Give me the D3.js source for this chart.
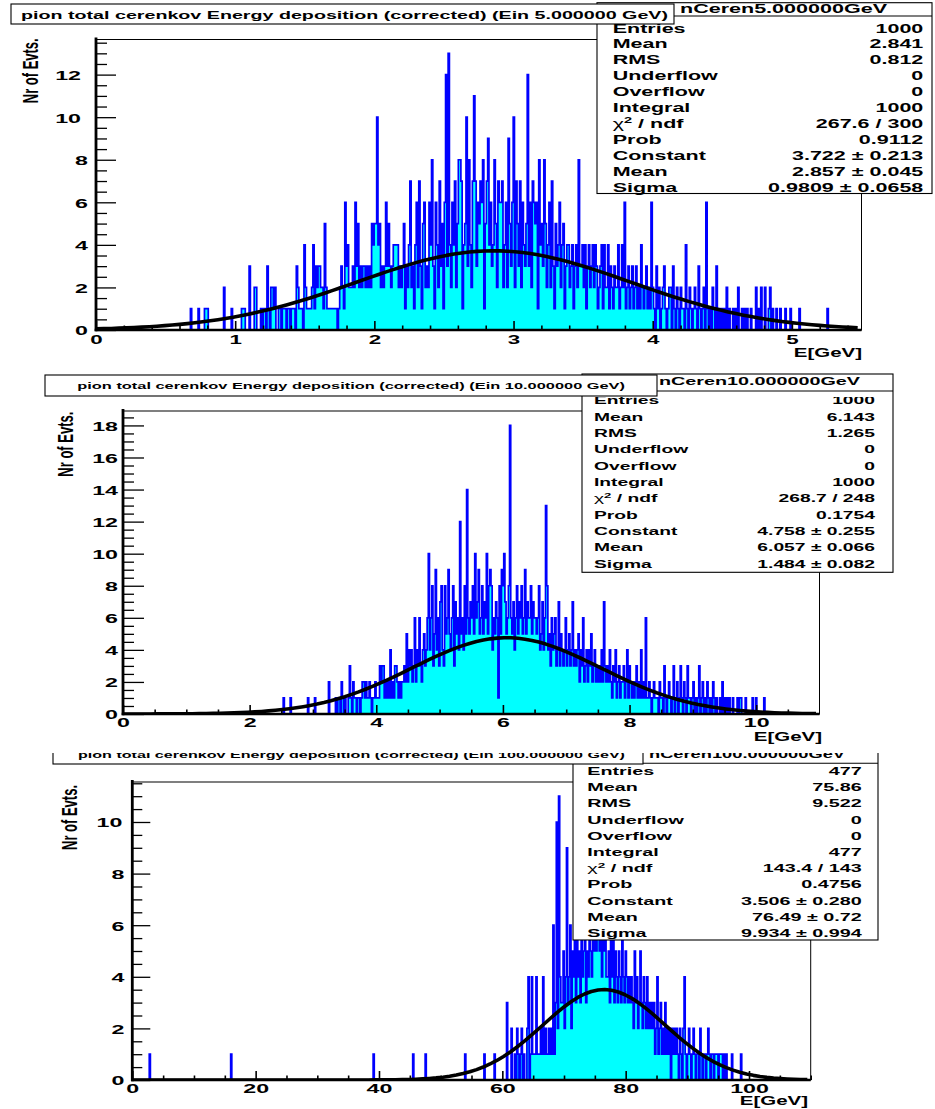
<!DOCTYPE html>
<html><head><meta charset="utf-8">
<script src="https://cdn.jsdelivr.net/npm/d3@7"></script>
<style>
html,body{margin:0;padding:0;background:#fff;}
svg{display:block;}
text{font-family:"Liberation Sans",Arial,Helvetica,sans-serif;font-weight:bold;fill:#000;}
</style></head><body>
<svg id="c" width="935" height="1109"></svg>
<script>
// ---------------- data ----------------
const NBINS = 600;
const beamEnergies = [5, 10, 100];
const histName = "nCeren";
const statLabels = ["Entries","Mean","RMS","Underflow","Overflow","Integral","chi2","Prob","Constant","Mean","Sigma"];

// Ein = 5 GeV  (bin counts, rows of twenty bins starting at ein5_first)
const ein5_xTicks = [0,1,2,3,4,5];
const ein5_yTicks = [0,2,4,6,8,10,12];
const ein5_first = 70;
const ein5_counts = [
0,0,0,0,1,0,0,0,0,0,  1,0,0,0,0,1,1,1,0,0,
0,0,0,0,0,0,0,0,0,0,  2,0,0,0,0,0,1,0,0,0,
0,0,0,0,1,1,1,0,0,0,  3,0,0,0,2,2,0,0,0,1,
0,1,1,0,3,1,0,2,2,1,  2,0,0,1,1,0,1,1,1,0,
1,1,0,1,1,1,0,3,2,1,  1,1,0,4,2,1,1,1,1,2,
4,1,3,2,3,3,2,2,1,5,  2,1,1,1,1,1,1,1,1,0,
1,2,3,2,1,6,3,4,2,2,  2,3,2,6,3,5,2,3,2,3,
3,2,3,2,3,2,5,4,5,5,  10,4,5,2,3,2,3,6,3,5,
3,2,3,4,4,4,4,2,3,2,  3,5,1,3,2,4,7,2,3,1,
4,6,2,7,3,1,5,6,2,3,  2,6,4,8,3,1,6,4,2,7,
3,5,1,6,12,3,13,4,2,6,  4,7,2,5,8,8,7,1,4,5,
10,3,8,4,2,7,11,7,3,6,  5,7,6,8,1,5,7,9,4,6,
3,4,8,5,2,7,6,6,7,2,  4,6,2,9,5,3,6,10,2,7,
5,3,7,2,6,4,3,5,12,3,  6,2,7,6,5,6,1,8,4,5,
3,8,5,2,4,6,2,7,3,1,  5,3,4,6,2,4,5,1,3,4,
4,2,3,4,1,3,4,2,8,3,  3,4,2,4,1,3,4,2,3,4,
2,4,3,1,2,3,4,1,4,2,  2,4,1,3,2,1,3,2,2,4,
1,2,4,2,6,1,2,3,1,2,  3,1,2,3,1,2,1,4,2,1,
2,3,1,2,1,6,2,1,0,3,  1,2,0,1,2,3,1,0,1,2,
2,0,3,1,0,2,1,0,2,1,  1,0,4,1,0,2,1,0,1,2,
1,0,3,1,0,1,2,0,6,1,  0,1,0,2,1,0,3,0,1,0,
1,0,1,0,2,0,1,0,0,1,  0,1,0,2,0,0,1,0,1,0,
1,0,0,1,0,0,0,2,0,1,  0,2,0,0,2,0,0,1,2,0,
1,0,0,1,0,0,1,0,0,0,  1,0,0,0,1,0,0,0,0,0,
0,1,0,0,0,0,0,0,0,0,  0,0,0,0,0,0,0,0,0,0,
0,0,0,1,0,0,0,0,0,0
];
const ein5_summary = ["1000","2.841","0.812","0","0","1000","267.6 / 300","0.9112"];
const ein5_fit = [3.722, 2.857, 0.9809];
const ein5_fitErr = [0.213, 0.045, 0.0658];

// Ein = 10 GeV
const ein10_xTicks = [0,2,4,6,8,10];
const ein10_yTicks = [0,2,4,6,8,10,12,14,16,18];
const ein10_first = 130;
const ein10_counts = [
0,0,0,0,0,0,0,0,1,0,  0,0,0,0,1,0,0,0,0,0,
0,0,0,0,0,0,0,0,0,1,  0,0,0,0,0,1,0,0,0,0,
0,0,0,0,0,0,0,2,0,0,  0,0,0,1,0,1,1,0,2,1,
0,1,0,0,1,3,1,0,2,1,  1,0,1,1,0,1,2,2,1,2,
1,1,2,1,0,1,1,2,1,1,  1,3,2,3,3,1,2,1,2,1,
4,1,2,1,3,3,2,1,2,1,  2,2,3,2,5,2,4,3,4,2,
3,6,2,4,3,6,3,2,4,5,  3,4,6,10,4,6,8,3,5,9,
4,6,3,7,8,4,3,8,5,6,  9,5,4,6,8,3,7,5,6,4,
12,5,6,4,8,5,14,6,5,7,  6,8,5,10,6,7,9,5,6,8,
5,7,6,10,5,8,9,8,4,6,  5,7,6,1,8,5,9,8,10,7,
5,6,8,18,6,5,7,4,6,8,  5,7,6,8,5,6,9,5,7,6,
6,8,5,7,6,6,5,6,8,4,  5,7,4,6,13,8,4,5,3,6,
4,5,6,3,4,7,3,5,4,3,  4,6,3,4,5,3,4,7,3,4,
3,4,5,2,4,3,6,2,3,4,  2,4,3,5,2,3,4,2,3,2,
3,2,4,2,7,3,2,3,2,4,  2,1,3,2,4,1,2,3,1,2,
2,3,1,2,4,1,3,2,1,2,  1,2,3,1,2,1,4,1,2,1,
6,1,1,2,1,0,1,2,1,1,  1,0,2,1,1,0,3,1,0,1,
2,1,0,1,3,0,1,2,0,1,  3,1,0,2,1,0,3,1,1,0,
1,2,0,1,0,1,3,0,1,2,  0,1,0,2,1,0,1,0,2,1,
0,1,0,0,1,0,2,0,1,0,  1,0,1,0,0,1,0,0,0,1,
0,1,1,0,0,0,1,0,0,0,  0,0,1,0,0,1,0,0,0,0,
0,0,1,0,0,0,0,0,0,0
];
const ein10_summary = ["1000","6.143","1.265","0","0","1000","268.7 / 248","0.1754"];
const ein10_fit = [4.758, 6.057, 1.484];
const ein10_fitErr = [0.255, 0.066, 0.082];

// Ein = 100 GeV  (rows of twenty bins starting at ein100_first)
const ein100_xTicks = [0,20,40,60,80,100];
const ein100_yTicks = [0,2,4,6,8,10];
const ein100_first = 10;
const ein100_counts = [
0,0,0,0,0,1,0,0,0,0, 0,0,0,0,0,0,0,0,0,0,
0,0,0,0,0,0,0,0,0,0, 0,0,0,0,0,0,0,0,0,0,
0,0,0,0,0,0,0,0,0,0, 0,0,0,0,0,0,0,0,0,0,
0,0,0,0,0,0,0,0,0,0, 0,0,0,0,0,0,0,1,0,0,
0,0,0,0,0,0,0,0,0,0, 0,0,0,0,0,0,0,0,0,0,
0,0,0,0,0,0,0,0,0,0, 0,0,0,0,0,0,0,0,0,0,
0,0,0,0,0,0,0,0,0,0, 0,0,0,0,0,0,0,0,0,0,
0,0,0,0,0,0,0,0,0,0, 0,0,0,0,0,0,0,0,0,0,
0,0,0,0,0,0,0,0,0,0, 0,0,0,0,0,0,0,0,0,0,
0,0,0,0,0,0,0,0,0,0, 0,0,0,0,0,0,0,0,0,0,
0,0,0,1,0,0,0,0,0,0, 0,0,0,0,0,0,0,0,0,0,
0,0,0,0,0,0,0,0,0,0, 0,0,0,0,0,0,0,0,1,0,
0,0,0,0,0,0,0,0,0,1, 0,0,0,0,0,0,0,0,0,0,
0,0,0,0,0,0,0,0,0,0, 0,0,0,0,0,0,0,0,0,0,
0,0,0,0,1,0,0,0,0,0, 0,0,0,0,0,0,0,0,0,0,
0,1,0,0,0,0,0,0,0,0, 1,0,0,0,0,0,0,0,0,0,
0,3,0,0,0,2,0,0,1,0, 2,1,0,1,2,0,1,0,0,2,
4,0,1,4,1,1,1,4,1,1, 1,2,1,4,1,2,1,1,2,1,
2,1,6,1,3,10,2,11,4,3, 3,5,2,4,9,3,4,6,2,5,
4,6,3,8,4,5,3,10,4,5, 6,3,5,4,7,5,4,8,5,6,
5,6,9,5,6,4,7,5,6,4, 4,5,3,7,4,6,3,5,4,3,
5,4,3,6,4,3,5,4,3,4, 3,4,3,2,5,3,4,2,3,5,
3,2,4,3,2,4,2,3,2,3, 2,3,1,2,4,1,2,3,1,2,
1,3,1,2,1,2,0,2,1,2, 1,2,1,0,2,1,0,2,4,1,
0,1,2,1,0,1,2,1,0,1, 1,0,2,1,0,1,1,0,1,2,
1,0,1,1,0,1,1,1,0,1, 1,1,0,1,0,1,0,0,0,0,
1,0,0,0,0,0,0,0,1,0, 0,0,0,0,0,0,0,0,0,0
];
const ein100_summary = ["477","75.86","9.522","0","0","477","143.4 / 143","0.4756"];
const ein100_fit = [3.506, 76.49, 9.934];
const ein100_fitErr = [0.280, 0.72, 0.994];

// ---------------- layout ----------------
const SX = 1.72;   // horizontal stretch of all lettering
const pads = [
  { energy: beamEnergies[0], counts: ein5_counts, first: ein5_first, summary: ein5_summary,
    fit: ein5_fit, fitErr: ein5_fitErr, xTicks: ein5_xTicks, yTicks: ein5_yTicks,
    xMinorStep: 0.2, yMinorStep: 0.5, yMax: 13.65, clipTop: 0,
    fx0: 96, fx1: 861.5, fyTop: 39.5, fyBot: 330,
    title: {x0: 11, x1: 674, y0: 4, y1: 24, tx0: 21, tx1: 668, ty: 18.5, fs: 11.4},
    stat: {x0: 597, x1: 932, h0: 2.7, h1: 16, y1: 193.5, tx0: 680, tx1: 887, ty: 12.7, hfs: 12.5,
           lx: 612.7, rx: 923.3, by: 32.5, dy: 15.95, fs: 12.5, cut: 2.3},
    yTitle: {x: 38.3, y: 38.3, fs: 13}, xTitle: {x: 862, y: 356.7, fs: 11.9},
    yLab: {fs: 13.5, gap1: 8, gap2: 15}, xLab: {y: 343.5, fs: 13}, yMajLen: 20, yMinLen: 11 },
  { energy: beamEnergies[1], counts: ein10_counts, first: ein10_first, summary: ein10_summary,
    fit: ein10_fit, fitErr: ein10_fitErr, xTicks: ein10_xTicks, yTicks: ein10_yTicks,
    xMinorStep: 0.5, yMinorStep: 0.5, yMax: 18.9, clipTop: 0,
    fx0: 123, fx1: 819.5, fyTop: 411, fyBot: 714,
    title: {x0: 45, x1: 657, y0: 375, y1: 396, tx0: 77.3, tx1: 625, ty: 389, fs: 9.6},
    stat: {x0: 582, x1: 893, h0: 374, h1: 391, y1: 572.3, tx0: 659, tx1: 860, ty: 385, hfs: 11.5,
           lx: 594, rx: 875, by: 404.3, dy: 16.34, fs: 11.2, cut: 6},
    yTitle: {x: 72.7, y: 411.7, fs: 13}, xTitle: {x: 822, y: 741, fs: 11.9},
    yLab: {fs: 13.5, gap1: 5, gap2: 5}, xLab: {y: 726.7, fs: 13.5}, yMajLen: 21, yMinLen: 11 },
  { energy: beamEnergies[2], counts: ein100_counts, first: ein100_first, summary: ein100_summary,
    fit: ein100_fit, fitErr: ein100_fitErr, xTicks: ein100_xTicks, yTicks: ein100_yTicks,
    xMinorStep: 5, yMinorStep: 0.5, yMax: 11.55, clipTop: 753,
    fx0: 132.3, fx1: 810.7, fyTop: 782, fyBot: 1080,
    title: {x0: 53, x1: 643, y0: 742, y1: 764, tx0: 78, tx1: 625, ty: 757.5, fs: 9.4},
    stat: {x0: 573, x1: 878, h0: 742, h1: 763.3, y1: 940, tx0: 649, tx1: 845, ty: 757.5, hfs: 10.6,
           lx: 587.3, rx: 861.7, by: 775, dy: 16.2, fs: 11.5, cut: 3.4},
    yTitle: {x: 77, y: 785, fs: 13}, xTitle: {x: 808, y: 1105, fs: 11.9},
    yLab: {fs: 13.5, gap1: 8, gap2: 10}, xLab: {y: 1092.7, fs: 13.5}, yMajLen: 18, yMinLen: 10 }
];

const svg = d3.select("#c");
svg.append("rect").attr("width", 935).attr("height", 1109).attr("fill", "#fff");

function sText(g, str, x, y, fs, anchor) {
  return g.append("text")
    .attr("transform", `translate(${x},${y}) scale(${SX},1)`)
    .attr("text-anchor", anchor || "start")
    .style("font-size", fs + "px")
    .text(str);
}

function fitText(g, str, x0, x1, y, fs) {
  return g.append("text").attr("x", x0).attr("y", y)
    .attr("textLength", x1 - x0).attr("lengthAdjust", "spacingAndGlyphs")
    .style("font-size", fs + "px").text(str);
}

function paramString(v, e) {
  const vs = d3.format(".4g")(v);
  const dec = (vs.split(".")[1] || "").length;
  return vs + " \u00b1 " + e.toFixed(dec);
}

pads.forEach((P, pi) => {
  const root = svg.append("g");
  if (P.clipTop > 0) {
    const cid = "padclip" + pi;
    svg.append("clipPath").attr("id", cid).append("rect")
      .attr("x", 0).attr("y", P.clipTop).attr("width", 935).attr("height", 1109 - P.clipTop);
    root.attr("clip-path", `url(#${cid})`);
  }
  const xMax = P.energy * 1.1;
  const binW = xMax / NBINS;
  const x = d3.scaleLinear().domain([0, xMax]).range([P.fx0, P.fx1]);
  const y = d3.scaleLinear().domain([0, P.yMax]).range([P.fyBot, P.fyTop]);

  // histogram, clipped to the frame
  const fid = "frameclip" + pi;
  svg.append("clipPath").attr("id", fid).append("rect")
    .attr("x", P.fx0).attr("y", P.fyTop).attr("width", P.fx1 - P.fx0).attr("height", P.fyBot - P.fyTop);
  const hg = root.append("g").attr("clip-path", `url(#${fid})`);
  const pts = [];
  P.counts.forEach((c, i) => {
    const b = P.first + i;
    pts.push([x(b * binW), y(c)], [x((b + 1) * binW), y(c)]);
  });
  hg.append("path")
    .attr("d", d3.area().x(p => p[0]).y0(y(0)).y1(p => p[1])(pts))
    .attr("fill", "#00ffff");
  hg.append("path")
    .attr("d", d3.line()(pts))
    .attr("fill", "none").attr("stroke", "#0000ff").attr("stroke-width", 1.7)
    .attr("stroke-linejoin", "miter");

  // gaussian fit drawn with 100 segments
  const [C, M, S] = P.fit;
  const fxs = d3.range(0, 101).map(k => k * xMax * 0.995 / 100);
  hg.append("path")
    .attr("d", d3.line().x(v => x(v)).y(v => y(C * Math.exp(-0.5 * ((v - M) / S) ** 2)))(fxs))
    .attr("fill", "none").attr("stroke", "#000").attr("stroke-width", 3.6)
    .attr("stroke-linejoin", "round");

  // frame
  root.append("rect").attr("x", P.fx0).attr("y", P.fyTop)
    .attr("width", P.fx1 - P.fx0).attr("height", P.fyBot - P.fyTop)
    .attr("fill", "none").attr("stroke", "#000").attr("stroke-width", 1);

  // y axis
  const yMinor = d3.range(0, P.yMax, P.yMinorStep).filter(v => !P.yTicks.includes(v));
  const gyMin = root.append("g").attr("transform", `translate(${P.fx0},0)`)
    .call(d3.axisLeft(y).tickValues(yMinor).tickSizeInner(-P.yMinLen).tickSizeOuter(0).tickFormat(""));
  gyMin.select(".domain").remove();
  const gyMaj = root.append("g").attr("transform", `translate(${P.fx0},0)`)
    .call(d3.axisLeft(y).tickValues(P.yTicks).tickSizeInner(-P.yMajLen).tickSizeOuter(0).tickFormat(d3.format("d")));
  gyMaj.select(".domain").remove();
  [gyMin, gyMaj].forEach(g => g.selectAll(".tick line").attr("stroke", "#000").attr("stroke-width", 1.3));
  gyMaj.selectAll("text")
    .attr("x", null).attr("dy", null).attr("fill", "#000")
    .attr("transform", d => `translate(${-(d >= 10 ? P.yLab.gap2 : P.yLab.gap1)},${P.yLab.fs * 0.36}) scale(${SX},1)`)
    .style("font-size", P.yLab.fs + "px")
    .style("font-family", '"Liberation Sans",Arial,sans-serif').style("font-weight", "bold");

  // x axis
  const xMinor = d3.range(0, xMax, P.xMinorStep).filter(v => !P.xTicks.some(t => Math.abs(t - v) < 1e-6));
  const gxMin = root.append("g").attr("transform", `translate(0,${P.fyBot})`)
    .call(d3.axisBottom(x).tickValues(xMinor).tickSizeInner(-4.5).tickSizeOuter(0).tickFormat(""));
  gxMin.select(".domain").remove();
  const gxMaj = root.append("g").attr("transform", `translate(0,${P.fyBot})`)
    .call(d3.axisBottom(x).tickValues(P.xTicks).tickSizeInner(-9).tickSizeOuter(0).tickFormat(d3.format("d")));
  gxMaj.select(".domain").remove();
  [gxMin, gxMaj].forEach(g => g.selectAll(".tick line").attr("stroke", "#000").attr("stroke-width", 1.6));
  gxMaj.selectAll("text")
    .attr("y", null).attr("dy", null).attr("fill", "#000")
    .attr("transform", `translate(0,${P.xLab.y - P.fyBot}) scale(${SX},1)`)
    .style("font-size", P.xLab.fs + "px")
    .style("font-family", '"Liberation Sans",Arial,sans-serif').style("font-weight", "bold");

  // heavy axis lines
  root.append("line").attr("x1", P.fx0).attr("x2", P.fx0).attr("y1", P.fyBot + 1.3).attr("y2", P.fyTop - 2)
    .attr("stroke", "#000").attr("stroke-width", 2.8);
  root.append("line").attr("x1", P.fx0 - 1.3).attr("x2", P.fx1).attr("y1", P.fyBot).attr("y2", P.fyBot)
    .attr("stroke", "#000").attr("stroke-width", 2.6);

  // axis titles
  root.append("text")
    .attr("transform", `translate(${P.yTitle.x},${P.yTitle.y}) scale(${SX},1) rotate(-90)`)
    .attr("text-anchor", "end").style("font-size", P.yTitle.fs + "px").text("Nr of Evts.");
  sText(root, "E[GeV]", P.xTitle.x, P.xTitle.y, P.xTitle.fs, "end");

  // statistics box
  const st = P.stat;
  root.append("rect").attr("x", st.x0).attr("y", st.h0).attr("width", st.x1 - st.x0).attr("height", st.y1 - st.h0)
    .attr("fill", "#fff").attr("stroke", "#000").attr("stroke-width", 1.1);
  const rid = "rowclip" + pi;
  svg.append("clipPath").attr("id", rid).append("rect")
    .attr("x", st.x0).attr("y", st.h1 + st.cut).attr("width", st.x1 - st.x0 + 20).attr("height", st.y1 - st.h1 + 20);
  const rows = root.append("g").attr("clip-path", `url(#${rid})`);
  const values = P.summary.concat(P.fit.map((v, k) => paramString(v, P.fitErr[k])));
  statLabels.forEach((lab, k) => {
    const by = st.by + k * st.dy;
    if (lab === "chi2") {
      const t = rows.append("text").attr("transform", `translate(${st.lx},${by}) scale(${SX},1)`)
        .style("font-size", st.fs + "px");
      t.append("tspan").style("font-weight", "normal").text("\u03c7");
      t.append("tspan").attr("dy", -st.fs * 0.38).style("font-size", (st.fs * 0.68) + "px").text("2");
      t.append("tspan").attr("dy", st.fs * 0.38).text(" / ndf");
    } else {
      sText(rows, lab, st.lx, by, st.fs, "start");
    }
    sText(rows, values[k], st.rx, by, st.fs, "end");
  });
  root.append("line").attr("x1", st.x0).attr("x2", st.x1).attr("y1", st.h1).attr("y2", st.h1)
    .attr("stroke", "#000").attr("stroke-width", 1.1);
  fitText(root, histName + P.energy.toFixed(6) + "GeV", st.tx0, st.tx1, st.ty, st.hfs);

  // title box
  const tb = P.title;
  root.append("rect").attr("x", tb.x0).attr("y", tb.y0).attr("width", tb.x1 - tb.x0).attr("height", tb.y1 - tb.y0)
    .attr("fill", "#fff").attr("stroke", "#000").attr("stroke-width", 1.1);
  fitText(root, `pion total cerenkov Energy deposition (corrected) (Ein ${P.energy.toFixed(6)} GeV)`,
    tb.tx0, tb.tx1, tb.ty, tb.fs);
});
</script>
</body></html>
